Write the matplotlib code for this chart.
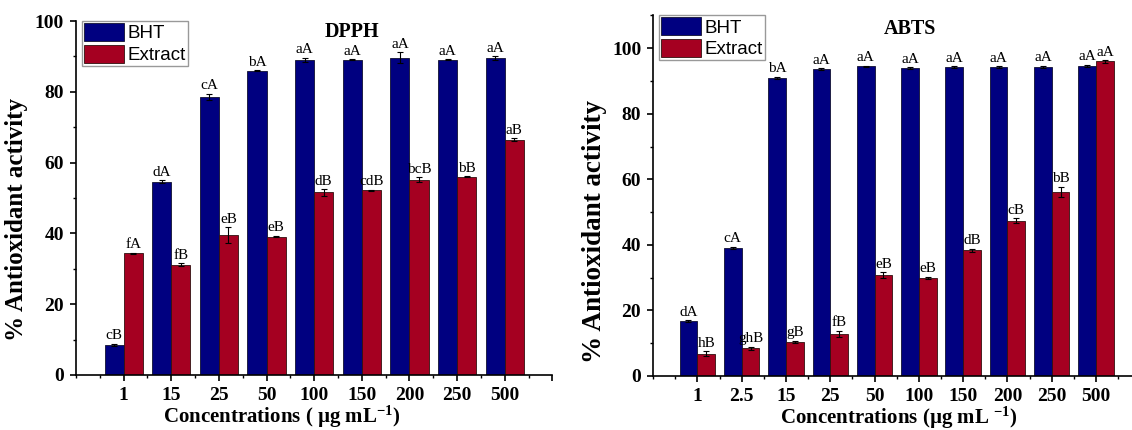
import numpy as np
import matplotlib
matplotlib.use("Agg")
import matplotlib.pyplot as plt
from matplotlib.ticker import MultipleLocator

# 字体：正文用 Times 类衬线粗体，图例用 Arial 类
plt.rcParams['font.family'] = ['Liberation Serif', 'DejaVu Serif']
plt.rcParams['font.weight'] = 'bold'
plt.rcParams['mathtext.fontset'] = 'custom'
plt.rcParams['mathtext.rm'] = 'Liberation Serif:bold'
plt.rcParams['mathtext.it'] = 'Liberation Serif:bold'
plt.rcParams['mathtext.bf'] = 'Liberation Serif:bold'

# DPPH 数据
conc_dpph = ['1', '15', '25', '50', '100', '150', '200', '250', '500']
bht_dpph = [8.5, 54.6, 78.6, 86.0, 89.0, 89.1, 89.7, 89.1, 89.5]
bht_dpph_err = [0.3, 0.4, 0.9, 0.2, 0.6, 0.2, 1.5, 0.2, 0.5]
ext_dpph = [34.4, 31.2, 39.5, 39.1, 51.6, 52.2, 55.2, 56.0, 66.5]
ext_dpph_err = [0.2, 0.4, 2.3, 0.2, 0.9, 0.2, 0.7, 0.2, 0.4]
bht_dpph_lab = ['cB', 'dA', 'cA', 'bA', 'aA', 'aA', 'aA', 'aA', 'aA']
ext_dpph_lab = ['fA', 'fB', 'eB', 'eB', 'dB', 'cdB', 'bcB', 'bB', 'aB']

# ABTS 数据
conc_abts = ['1', '2.5', '15', '25', '50', '100', '150', '200', '250', '500']
bht_abts = [16.8, 39.2, 91.0, 93.7, 94.5, 94.0, 94.3, 94.3, 94.4, 94.6]
bht_abts_err = [0.3, 0.3, 0.3, 0.2, 0.2, 0.2, 0.2, 0.2, 0.3, 0.4]
ext_abts = [6.8, 8.4, 10.5, 12.8, 30.8, 30.0, 38.3, 47.4, 56.2, 96.0]
ext_abts_err = [0.7, 0.5, 0.3, 1.0, 0.9, 0.3, 0.5, 0.8, 1.6, 0.4]
bht_abts_lab = ['dA', 'cA', 'bA', 'aA', 'aA', 'aA', 'aA', 'aA', 'aA', 'aA']
ext_abts_lab = ['hB', 'ghB', 'gB', 'fB', 'eB', 'eB', 'dB', 'cB', 'bB', 'aA']

blue = '#000080'
red = '#A50021'
w = 0.4


def draw(ax, conc, bht, bht_err, ext, ext_err, bht_lab, ext_lab, title, title_y, ylab_size):
    x = np.arange(1, len(conc) + 1)
    ax.bar(x - w / 2, bht, w, yerr=bht_err, color=blue, edgecolor='#101030',
           linewidth=0.6, capsize=2.5, error_kw=dict(elinewidth=0.8, capthick=0.8),
           label='BHT')
    ax.bar(x + w / 2, ext, w, yerr=ext_err, color=red, edgecolor='#301010',
           linewidth=0.6, capsize=2.5, error_kw=dict(elinewidth=0.8, capthick=0.8),
           label='Extract')
    # 字母标注
    for xi, v, e, s in zip(x - w / 2, bht, bht_err, bht_lab):
        ax.annotate(s, (xi, v + e), xytext=(0, 1), textcoords='offset points',
                    ha='center', va='bottom', fontsize=11, fontweight='normal')
    for xi, v, e, s in zip(x + w / 2, ext, ext_err, ext_lab):
        ax.annotate(s, (xi, v + e), xytext=(0, 1), textcoords='offset points',
                    ha='center', va='bottom', fontsize=11, fontweight='normal')
    ax.text(5.8, title_y, title, ha='center', va='center', fontsize=14.5, fontweight='bold')

    ax.spines['top'].set_visible(False)
    ax.spines['right'].set_visible(False)
    for sp in ['left', 'bottom']:
        ax.spines[sp].set_linewidth(1.2)
    ax.xaxis.set_minor_locator(MultipleLocator(0.5))
    ax.yaxis.set_major_locator(MultipleLocator(20))
    ax.yaxis.set_minor_locator(MultipleLocator(10))
    ax.tick_params(which='major', length=4.5, width=1.2, labelsize=14, pad=4)
    ax.tick_params(which='minor', length=2.5, width=1.0)
    ax.set_ylabel('% Antioxidant activity', fontsize=ylab_size, fontweight='bold')

    leg = ax.legend(loc='upper left', bbox_to_anchor=(0.012, 1.0), borderaxespad=0,
                    prop={'family': 'Liberation Sans', 'size': 13.5, 'weight': 'normal'},
                    handlelength=2.15, handleheight=1.1, labelspacing=0.12,
                    handletextpad=0.2, borderpad=0.1, fancybox=False, framealpha=1)
    leg.get_frame().set_edgecolor('#999999')
    leg.get_frame().set_linewidth(1.0)
    return x


fig = plt.figure(figsize=(11.32, 4.3), dpi=100)

# 左图 DPPH
ax1 = fig.add_axes([0.0671, 0.128, 0.4209, 0.823])
x = draw(ax1, conc_dpph, bht_dpph, bht_dpph_err, ext_dpph, ext_dpph_err,
         bht_dpph_lab, ext_dpph_lab, 'DPPH', 97, 18)
ax1.set_xlim(0, 10)
ax1.set_ylim(0, 100)
ax1.set_xticks(list(x) + [10])
ax1.set_xticklabels(conc_dpph + [''])
ax1.set_xlabel('Concentrations ( µg mL$^{-1}$)', fontsize=15, fontweight='bold')
ax1.xaxis.set_label_coords(0.433, -0.082)
ax1.yaxis.set_label_coords(-0.1, 0.44)

# 右图 ABTS
ax2 = fig.add_axes([0.5769, 0.1256, 0.4305, 0.8384])
x = draw(ax2, conc_abts, bht_abts, bht_abts_err, ext_abts, ext_abts_err,
         bht_abts_lab, ext_abts_lab, 'ABTS', 106, 19.5)
ax2.set_xlim(0, 11)
ax2.set_ylim(0, 110)
ax2.set_xticks(x)
ax2.set_xticklabels(conc_abts)
ax2.set_xlabel('Concentrations (µg mL $^{-1}$)', fontsize=15, fontweight='bold')
ax2.xaxis.set_label_coords(0.504, -0.08)
ax2.yaxis.set_label_coords(-0.094, 0.40)

plt.savefig('out.png', dpi=100)
